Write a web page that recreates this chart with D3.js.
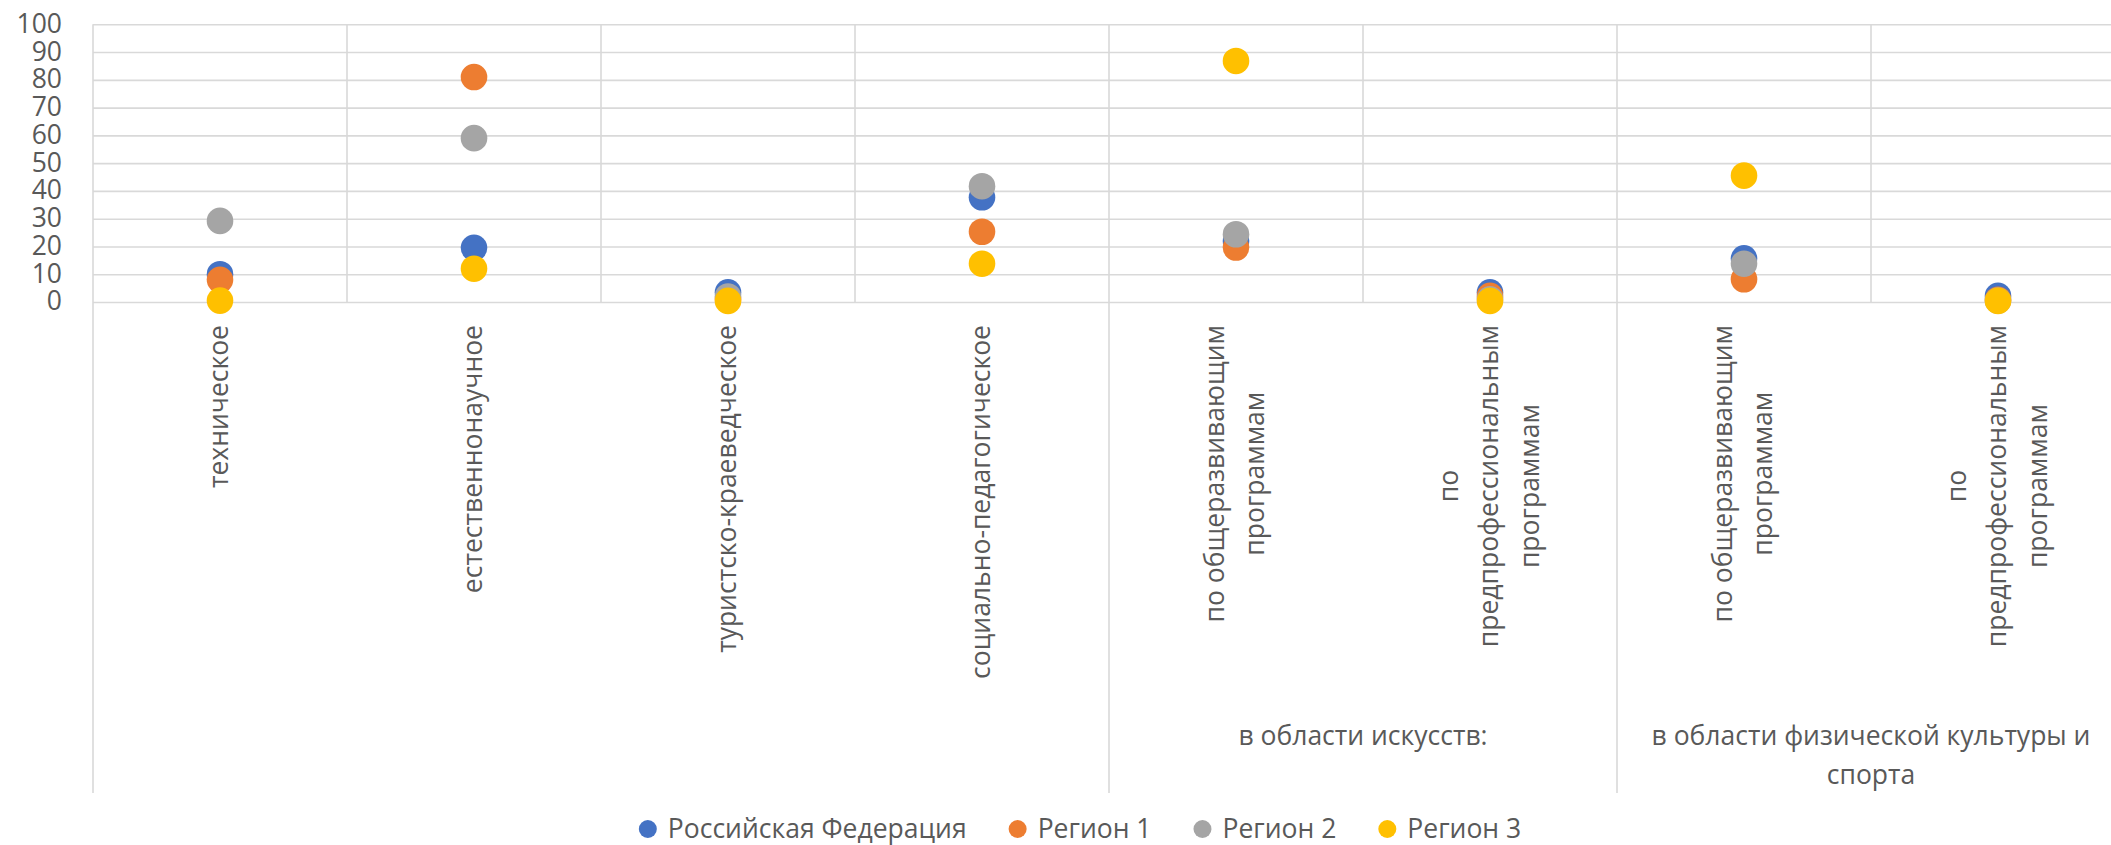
<!DOCTYPE html>
<html lang="ru">
<head>
  <meta charset="UTF-8">
  <title>Направленности дополнительного образования</title>
  <style>
    body { margin: 0; background: #fff; }
    text { font-family: "Open Sans", sans-serif; fill: #595959; }
  </style>
</head>
<body>
  <svg id="chart" width="2111" height="845"></svg>

  <script src="https://d3js.org/d3.v7.min.js"></script>
  <script>
    // categories (\n = line break inside the label)
    const categories = [
      "техническое",
      "естественнонаучное",
      "туристско-краеведческое",
      "социально-педагогическое",
      "по общеразвивающим\nпрограммам",
      "по\nпредпрофессиональным\nпрограммам",
      "по общеразвивающим\nпрограммам",
      "по\nпредпрофессиональным\nпрограммам"
    ];
    const groupLabels = ["", "в области искусств:", "в области физической культуры и\nспорта"];
    const groupStart = [0, 4, 6];
    const groupEnd = [3, 5, 7];

    const seriesNames = ["Российская Федерация", "Регион 1", "Регион 2", "Регион 3"];
    const seriesColors = ["#4472C4", "#ED7D31", "#A5A5A5", "#FFC000"];
    const rfValues = [10, 19.5, 3.5, 37.7, 22, 3.5, 15.7, 2.2];
    const region1Values = [8, 81, 1, 25.3, 19.6, 2.2, 8.2, 0.8];
    const region2Values = [29.2, 59, 2, 41.7, 24.4, 1, 13.8, 0.5];
    const region3Values = [0.5, 12, 0.4, 13.8, 86.8, 0.4, 45.5, 0.4];
    const seriesValues = [rfValues, region1Values, region2Values, region3Values];

    const yTicks = [0, 10, 20, 30, 40, 50, 60, 70, 80, 90, 100];

    const svg = d3.select("#chart");
    const fontSize = 26.5;
    const gridColor = "#d9d9d9";

    const plotLeft = 93, plotRight = 2125, plotTop = 24.3, plotBottom = 302;

    const x = d3.scaleBand()
      .domain(d3.range(categories.length))
      .range([plotLeft, plotRight]);
    const y = d3.scaleLinear().domain([0, 100]).range([plotBottom, plotTop]);
    const bw = x.bandwidth();

    // horizontal gridlines + y labels
    const yAxis = svg.append("g")
      .attr("transform", `translate(${plotLeft},0)`)
      .call(d3.axisLeft(y).tickValues(yTicks).tickSize(-(plotRight - plotLeft)).tickPadding(31));
    yAxis.select(".domain").remove();
    yAxis.selectAll(".tick line").attr("stroke", gridColor).attr("stroke-width", 1.6);
    yAxis.selectAll(".tick text")
      .attr("font-size", fontSize)
      .attr("font-family", "Open Sans")
      .attr("fill", "#595959")
      .attr("dy", "0.3em");

    // vertical lines between categories
    const bounds = d3.range(categories.length).map(i => x(i)).concat([x.range()[1]]);
    const groupBounds = groupStart.map(i => x(i)).concat([x(groupEnd[groupEnd.length - 1]) + bw]);
    svg.append("g")
      .selectAll("line")
      .data(bounds)
      .join("line")
      .attr("x1", d => d).attr("x2", d => d)
      .attr("y1", y(100))
      .attr("y2", d => groupBounds.includes(d) ? 793 : y(0))
      .attr("stroke", gridColor)
      .attr("stroke-width", 1.6);

    // points
    seriesValues.forEach((vals, s) => {
      svg.append("g")
        .selectAll("circle")
        .data(vals)
        .join("circle")
        .attr("cx", (d, i) => x(i) + bw / 2)
        .attr("cy", d => y(d))
        .attr("r", 13.3)
        .attr("fill", seriesColors[s]);
    });

    // rotated category labels
    const lineGap = 40.5;
    categories.forEach((c, i) => {
      const lines = c.split("\n");
      const g = svg.append("g")
        .attr("transform", `translate(${x(i) + bw / 2 + 1},325) rotate(-90)`);
      const texts = lines.map((t, j) => g.append("text")
        .attr("font-size", fontSize)
        .attr("text-anchor", "middle")
        .attr("y", (j - (lines.length - 1) / 2) * lineGap + 7)
        .text(t));
      const maxLen = d3.max(texts, t => t.node().getComputedTextLength());
      texts.forEach(t => t.attr("x", -maxLen / 2));
    });

    // group labels
    groupLabels.forEach((lab, k) => {
      if (!lab) return;
      const cx = (x(groupStart[k]) + x(groupEnd[k]) + bw) / 2;
      lab.split("\n").forEach((t, j) => {
        svg.append("text")
          .attr("x", cx)
          .attr("y", 745 + j * 38.5)
          .attr("font-size", fontSize)
          .attr("text-anchor", "middle")
          .text(t);
      });
    });

    // legend
    const legend = svg.append("g");
    let lx = 0;
    seriesNames.forEach((n, s) => {
      const item = legend.append("g").attr("transform", `translate(${lx},0)`);
      item.append("circle").attr("cx", 0).attr("cy", 829).attr("r", 9).attr("fill", seriesColors[s]);
      const t = item.append("text")
        .attr("x", 20)
        .attr("y", 838)
        .attr("font-size", fontSize)
        .text(n);
      lx += 20 + t.node().getComputedTextLength() + 51;
    });
    const legendWidth = lx - 51 + 9;
    legend.attr("transform", `translate(${1080 - legendWidth / 2 + 9},0)`);
  </script>
</body>
</html>
